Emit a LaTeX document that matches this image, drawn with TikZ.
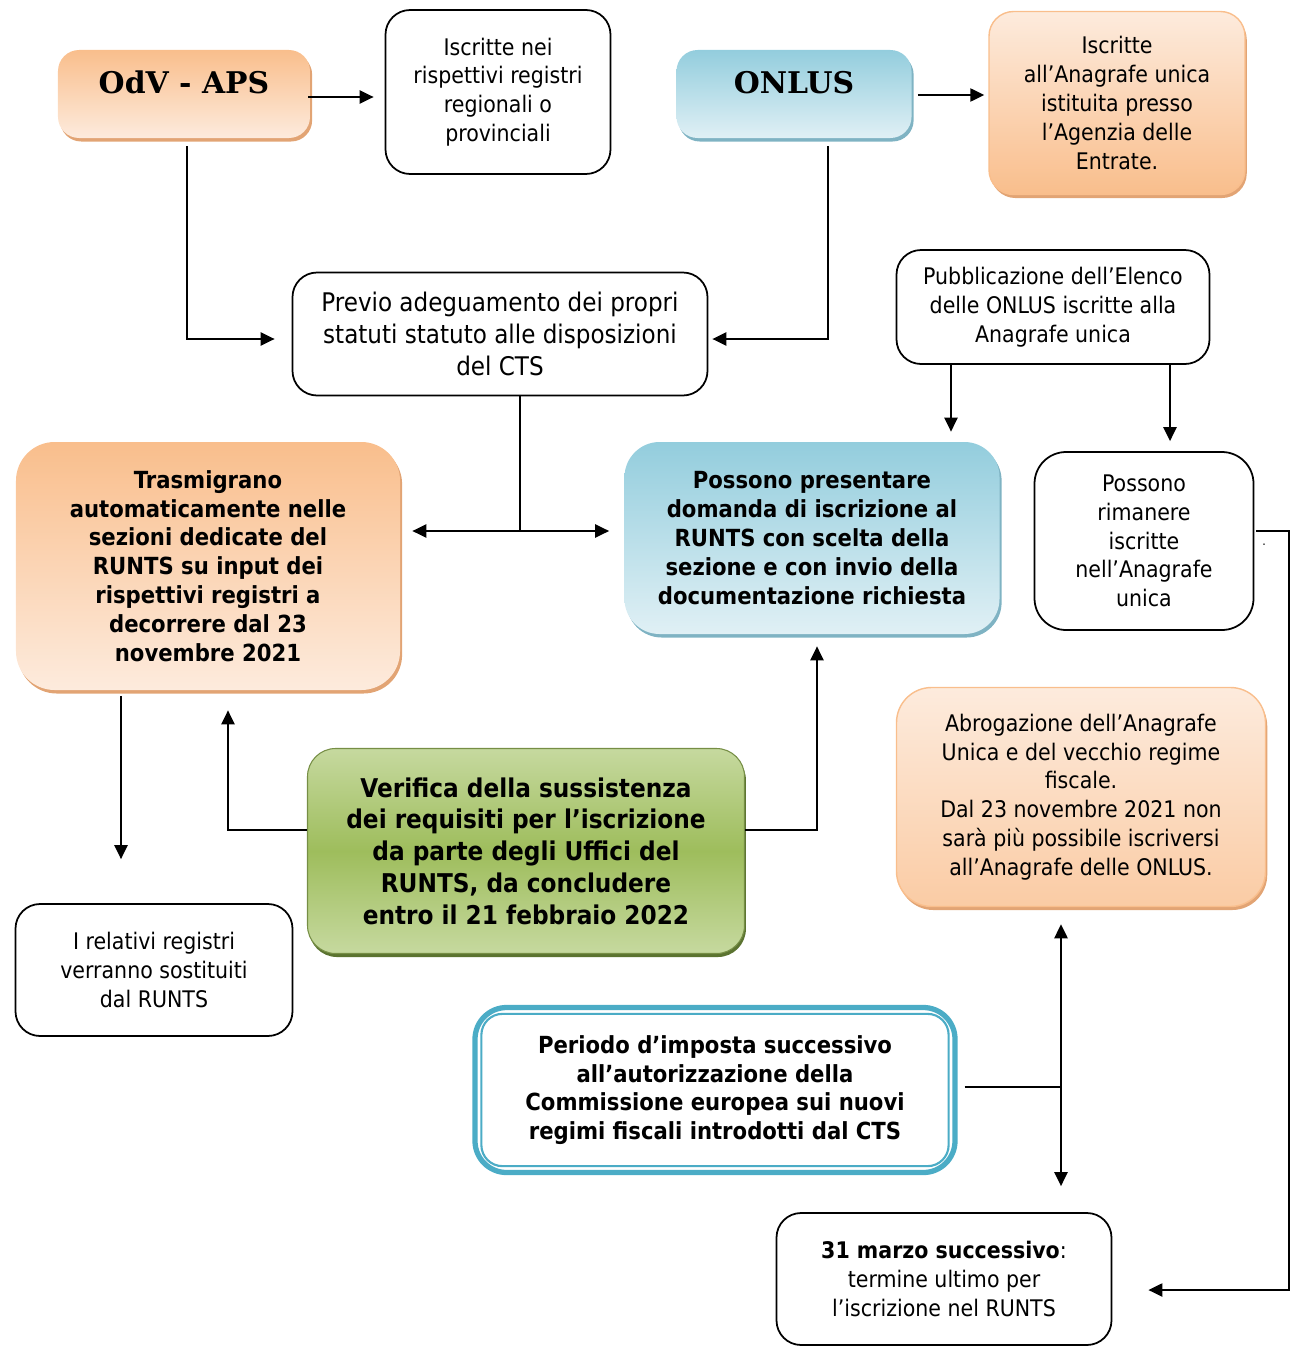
\documentclass[tikz,border=0pt]{standalone}
\usepackage{fontspec}
\setmainfont{DejaVu Sans Condensed}
\newfontfamily\headfont{DejaVu Serif}
\usetikzlibrary{arrows.meta, calc, shadows}
\definecolor{oraD}{HTML}{F9BE8C}
\definecolor{oraL}{HTML}{FDEBDD}
\definecolor{oraS}{HTML}{E2A474}
\definecolor{bluD}{HTML}{93CDDD}
\definecolor{bluL}{HTML}{E0F0F5}
\definecolor{bluS}{HTML}{7FB3C3}
\definecolor{grnD}{HTML}{9EBD5C}
\definecolor{grnL}{HTML}{C6D99F}
\definecolor{grnS}{HTML}{5B7330}
\definecolor{frame}{HTML}{4BACC6}
\newcommand{\headtext}[1]{\raisebox{0pt}[0pt][0pt]{#1}}
\tikzset{
  >={Triangle[length=8pt,width=7.5pt]},
  every node/.style={align=center, inner sep=0pt},
  txt/.style={font=\fontsize{13}{16.4}\selectfont},
  bigtxt/.style={font=\fontsize{14.6}{18.1}\selectfont},
  boldtxt/.style={font=\bfseries\fontsize{13.4}{16.4}\selectfont},
  bigbold/.style={font=\bfseries\fontsize{14.7}{18.1}\selectfont},
  head/.style={font=\headfont\bfseries\fontsize{17}{20}\selectfont},
  plainbox/.style={draw, line width=1pt, rounded corners=14pt, fill=white},
  orabox/.style={rounded corners=12pt, top color=oraD, bottom color=oraL,
    drop shadow={shadow xshift=1.2pt, shadow yshift=-2pt, fill=oraS, opacity=1}},
  blubox/.style={rounded corners=12pt, top color=bluD, bottom color=bluL,
    drop shadow={shadow xshift=1.2pt, shadow yshift=-2pt, fill=bluS, opacity=1}},
  grnbox/.style={rounded corners=16pt, draw=grnD!75!black, line width=0.6pt,
    top color=grnL, bottom color=grnL, middle color=grnD,
    drop shadow={shadow xshift=0.8pt, shadow yshift=-2pt, fill=grnS, opacity=1}},
  conn/.style={->, line width=1.1pt},
  conn2/.style={<->, line width=1.1pt},
  link/.style={line width=1.1pt},
}
\begin{document}
\begin{tikzpicture}[x=0.2mm, y=-0.2mm]
  \useasboundingbox (0,0) rectangle (1303,1360);

  % top row
  \node[orabox, head, minimum width=5.04cm, minimum height=1.76cm] (odv) at (184,94) {\headtext{OdV - APS}};
  \node[plainbox, txt, minimum width=4.5cm, minimum height=3.28cm] (registri) at (498,92)
    {Iscritte nei\\rispettivi registri\\regionali o\\provinciali};
  \node[blubox, head, minimum width=4.7cm, minimum height=1.76cm] (onlus) at (794,94) {\headtext{ONLUS}};
  \node[rounded corners=14pt, draw=oraD, line width=0.8pt, top color=oraL, bottom color=oraD,
    drop shadow={shadow xshift=1pt, shadow yshift=-2pt, fill=oraS, opacity=1},
    txt, minimum width=5.12cm, minimum height=3.66cm] (anagrafe) at (1117,103)
    {Iscritte\\all’Anagrafe unica\\istituita presso\\l’Agenzia delle\\Entrate.};

  % second row
  \node[plainbox, bigtxt, minimum width=8.3cm, minimum height=2.46cm] (previo) at (500,334)
    {Previo adeguamento dei propri\\statuti statuto alle disposizioni\\del CTS};
  \node[plainbox, txt, minimum width=6.26cm, minimum height=2.28cm] (elenco) at (1053,307)
    {Pubblicazione dell’Elenco\\delle ONLUS iscritte alla\\Anagrafe unica};

  % middle row
  \node[orabox, rounded corners=22pt, boldtxt, minimum width=7.68cm, minimum height=4.96cm] (trasmigrano) at (208,566)
    {Trasmigrano\\automaticamente nelle\\sezioni dedicate del\\RUNTS su input dei\\rispettivi registri a\\decorrere dal 23\\novembre 2021};
  \node[blubox, rounded corners=20pt, boldtxt, minimum width=7.5cm, minimum height=3.84cm] (domanda) at (812,538)
    {Possono presentare\\domanda di iscrizione al\\RUNTS con scelta della\\sezione e con invio della\\documentazione richiesta};
  \node[plainbox, rounded corners=18pt, txt, minimum width=4.38cm, minimum height=3.56cm] (rimanere) at (1144,541)
    {Possono\\rimanere\\iscritte\\nell’Anagrafe\\unica};
  \node[rounded corners=20pt, draw=oraD, line width=0.8pt, top color=oraL, bottom color=oraD!70!oraL,
    drop shadow={shadow xshift=1pt, shadow yshift=-2pt, fill=oraS, opacity=1},
    txt, minimum width=7.38cm, minimum height=4.38cm] (abrogazione) at (1081,797)
    {Abrogazione dell’Anagrafe\\Unica e del vecchio regime\\fiscale.\\Dal 23 novembre 2021 non\\sarà più possibile iscriversi\\all’Anagrafe delle ONLUS.};

  % lower part
  \node[grnbox, bigbold, minimum width=8.74cm, minimum height=4.1cm] (verifica) at (526,851)
    {Verifica della sussistenza\\dei requisiti per l’iscrizione\\da parte degli Uffici del\\RUNTS, da concludere\\entro il 21 febbraio 2022};
  \node[plainbox, txt, minimum width=5.54cm, minimum height=2.64cm] (sostituiti) at (154,970)
    {I relativi registri\\verranno sostituiti\\dal RUNTS};
  \node[draw=frame, line width=3pt, rounded corners=18pt, fill=white, boldtxt,
    minimum width=9.6cm, minimum height=3.3cm] (periodo) at (715,1090)
    {Periodo d’imposta successivo\\all’autorizzazione della\\Commissione europea sui nuovi\\regimi fiscali introdotti dal CTS};
  \draw[frame, line width=1.2pt, rounded corners=12pt]
    ($(periodo.north west)+(9,9)$) rectangle ($(periodo.south east)+(-9,-9)$);
  \node[plainbox, txt, minimum width=6.7cm, minimum height=2.64cm] (marzo) at (944,1279)
    {\textbf{31 marzo successivo}:\\termine ultimo per\\l’iscrizione nel RUNTS};
  \node[font=\fontsize{7}{8}\selectfont, anchor=base] (dot) at (1264,545) {.};

  % connectors
  \coordinate (split) at (520,531);
  \coordinate (join) at (1061,1087);
  \draw[conn] ($(odv.east)+(-2,3)$) -- ($(registri.west |- odv.east)+(-11,3)$);
  \draw[conn] ($(onlus.east)+(6,1)$) -- ($(anagrafe.west |- onlus.east)+(-4,1)$);
  \draw[conn] ($(odv.south)+(3,8)$) |- ($(previo.west)+(-17,5)$);
  \draw[conn] ($(onlus.south)+(34,8)$) |- ($(previo.east)+(4,5)$);
  \draw[link] (previo.south -| split) -- (split);
  \draw[conn2] ($(trasmigrano.east |- split)+(12,0)$) -- ($(domanda.west |- split)+(-15,0)$);
  \draw[conn] ($(elenco.south)+(-102,0)$) -- ($(domanda.north)+(139,-10)$);
  \draw[conn] ($(elenco.south)+(117,0)$) -- ($(rimanere.north)+(26,-10)$);
  \draw[conn] ($(trasmigrano.south)+(-87,6)$) -- ($(sostituiti.north)+(-33,-44)$);
  \draw[conn] ($(verifica.west)+(0,-21)$) -| ($(trasmigrano.south)+(20,20)$);
  \draw[conn] ($(verifica.east)+(0,-21)$) -| ($(domanda.south)+(5,12)$);
  \draw[link] ($(periodo.east)+(7,-3)$) -- (join);
  \draw[conn2] ($(abrogazione.south)+(-20,17)$) -- ($(marzo.north)+(117,-26)$);
  \draw[conn] ($(rimanere.east)+(2,-10)$) -- ++(33,0) |- ($(marzo.east)+(36,11)$);
\end{tikzpicture}
\end{document}
